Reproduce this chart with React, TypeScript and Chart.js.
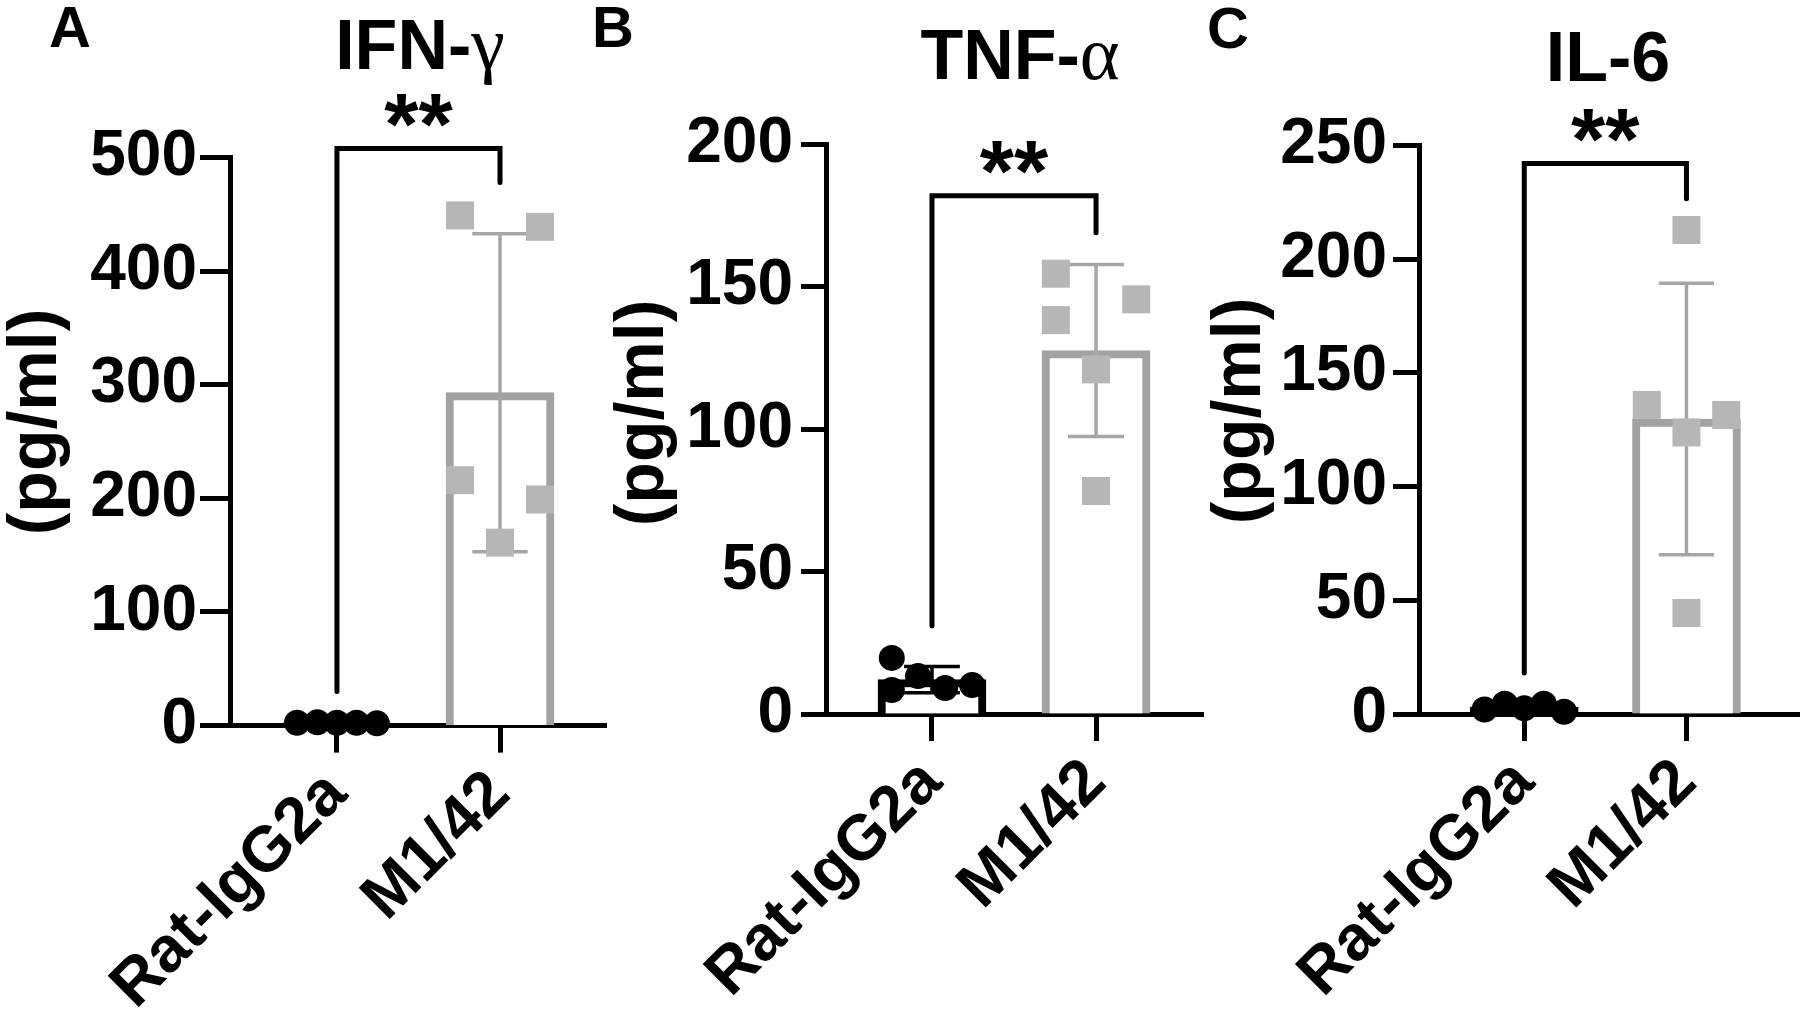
import React, { useEffect, useRef } from 'react';
import { Chart, registerables } from 'chart.js';

Chart.register(...registerables);

const W = 1800;
const H = 1036;
const SANS = '"Liberation Sans", Arial, Helvetica, sans-serif';
const SERIF = '"Liberation Serif", "Times New Roman", serif';

// ---------- data ----------
const groups = ['Rat-IgG2a', 'M1/42'];
const panelLetters = ['A', 'B', 'C'];
const titleMain = ['IFN-', 'TNF-', 'IL-6'];
const titleGreek = ['γ', 'α', ''];
const yLabel = '(pg/ml)';
const sigLabel = '**';

// IFN-γ (pg/ml)
const ifnRat = [2.5, 3, 2.5, 2.5, 2];
const ifnM142 = [449, 439, 216, 199, 161];
const ifnMean = [2.5, 293];
const ifnSd = [0.4, 140];
const ifnBracket = [30, 508, 478]; // left leg end, top, right leg end
const ifnTicks = { max: 500, step: 100 };

// TNF-α (pg/ml)
const tnfRat = [19.7, 13.3, 8.4, 9.1, 10.2];
const tnfM142 = [154.6, 145.6, 138.3, 121, 78.3];
const tnfMean = [12.1, 127.6];
const tnfSd = [4.6, 30.2];
const tnfBracket = [31, 182, 169];
const tnfTicks = { max: 200, step: 50 };

// IL-6 (pg/ml)
const il6Rat = [2, 4.5, 2.5, 4.5, 1];
const il6M142 = [212.8, 135.9, 131.5, 123.8, 44.4];
const il6Mean = [3, 129.7];
const il6Sd = [1.5, 59.7];
const il6Bracket = [18, 242, 226.5];
const il6Ticks = { max: 250, step: 50 };

// horizontal scatter of the dots inside each group (category units)
const ifnRatJitter = [-0.245, -0.12, 0, 0.12, 0.245];
const ifnM142Jitter = [-0.245, 0.245, -0.245, 0.245, 0];
const tnfRatJitter = [-0.245, -0.085, -0.245, 0.08, 0.245];
const tnfM142Jitter = [-0.245, 0.245, -0.245, 0, 0];
const il6RatJitter = [-0.245, -0.12, 0, 0.12, 0.245];
const il6M142Jitter = [0, -0.245, 0.245, 0, 0];

// ---------- layout / style ----------
type Layout = {
  axisX: number; top: number; zero: number; right: number;
  xMin: number; xMax: number;
  yTickLen: number; yTickPad: number;
  letter: [number, number]; title: [number, number]; yTitle: [number, number];
};

type Panel = {
  idx: number;
  rat: number[]; ratJ: number[]; m: number[]; mJ: number[];
  mean: number[]; sd: number[]; bracket: number[];
  ticks: { max: number; step: number };
  L: Layout;
};

const panels: Panel[] = [
  {
    idx: 0, rat: ifnRat, ratJ: ifnRatJitter, m: ifnM142, mJ: ifnM142Jitter,
    mean: ifnMean, sd: ifnSd, bracket: ifnBracket, ticks: ifnTicks,
    L: { axisX: 230, top: 157.5, zero: 725.6, right: 606, xMin: -0.656, xMax: 1.65,
      yTickLen: 30, yTickPad: 3, letter: [70, 27], title: [420, 44], yTitle: [56, 422] },
  },
  {
    idx: 1, rat: tnfRat, ratJ: tnfRatJitter, m: tnfM142, mJ: tnfM142Jitter,
    mean: tnfMean, sd: tnfSd, bracket: tnfBracket, ticks: tnfTicks,
    L: { axisX: 826, top: 144.4, zero: 714, right: 1203, xMin: -0.646, xMax: 1.652,
      yTickLen: 25, yTickPad: 8, letter: [613, 27], title: [1020, 54], yTitle: [663, 413] },
  },
  {
    idx: 2, rat: il6Rat, ratJ: il6RatJitter, m: il6M142, mJ: il6M142Jitter,
    mean: il6Mean, sd: il6Sd, bracket: il6Bracket, ticks: il6Ticks,
    L: { axisX: 1419, top: 145.4, zero: 714, right: 1800, xMin: -0.649, xMax: 1.70,
      yTickLen: 26, yTickPad: 6, letter: [1228, 28], title: [1608, 56], yTitle: [1260, 411] },
  },
];

const GREY_BAR = '#a2a2a2';
const GREY_DOT = '#b6b6b6';
const GREY_ERR = '#a6a6a6';
const CAP = 0.17;
const Y_AXIS_W = 200;
const STAR_GAP = 38;

function capCenterText(ctx: CanvasRenderingContext2D, text: string, font: string, cx: number, cy: number) {
  ctx.font = font;
  const m = ctx.measureText(text);
  ctx.textAlign = 'center';
  ctx.textBaseline = 'alphabetic';
  ctx.fillText(text, cx, cy + (m.actualBoundingBoxAscent - m.actualBoundingBoxDescent) / 2);
}

function makeTextPlugin(p: Panel) {
  return {
    id: 'panelText' + p.idx,
    afterDraw(chart: any) {
      const ctx: CanvasRenderingContext2D = chart.ctx;
      const L = p.L;
      ctx.save();
      ctx.fillStyle = '#000';
      // panel letter
      capCenterText(ctx, panelLetters[p.idx], `bold 58px ${SANS}`, L.letter[0], L.letter[1]);
      // title (sans part + greek serif part)
      const mainFont = `bold 70px ${SANS}`;
      const greekFont = `76px ${SERIF}`;
      ctx.font = mainFont;
      const capA = ctx.measureText('I').actualBoundingBoxAscent;
      const w1 = ctx.measureText(titleMain[p.idx]).width;
      ctx.font = greekFont;
      const w2 = titleGreek[p.idx] ? ctx.measureText(titleGreek[p.idx]).width : 0;
      const x0 = L.title[0] - (w1 + w2) / 2;
      const base = L.title[1] + capA / 2;
      ctx.textAlign = 'left';
      ctx.textBaseline = 'alphabetic';
      ctx.font = mainFont;
      ctx.fillText(titleMain[p.idx], x0, base);
      if (titleGreek[p.idx]) {
        ctx.font = greekFont;
        ctx.fillText(titleGreek[p.idx], x0 + w1, base);
      }
      // significance stars above bracket
      const xs = chart.scales.x;
      const ys = chart.scales.y;
      const sx = (xs.getPixelForValue(0) + xs.getPixelForValue(1)) / 2;
      const sy = ys.getPixelForValue(p.bracket[1]) - STAR_GAP;
      capCenterText(ctx, sigLabel, `bold 88px ${SANS}`, sx, sy);
      // y axis title
      ctx.translate(L.yTitle[0], L.yTitle[1]);
      ctx.rotate(-Math.PI / 2);
      ctx.font = `bold 68px ${SANS}`;
      ctx.textAlign = 'center';
      ctx.textBaseline = 'alphabetic';
      ctx.fillText(yLabel, 0, 0);
      ctx.restore();
    },
  };
}

function makeConfig(p: Panel): any {
  const L = p.L;
  const datasets: any[] = [];
  // dots
  datasets.push({
    type: 'line', order: 0, showLine: false, clip: false,
    data: p.rat.map((v, i) => ({ x: 0 + p.ratJ[i], y: v })),
    pointStyle: 'circle', pointRadius: 13, pointBackgroundColor: '#000', pointBorderWidth: 0,
  });
  datasets.push({
    type: 'line', order: 0, showLine: false, clip: false,
    data: p.m.map((v, i) => ({ x: 1 + p.mJ[i], y: v })),
    pointStyle: 'rect', pointRadius: 19.8, pointBackgroundColor: GREY_DOT, pointBorderWidth: 0,
  });
  // error bars (mean ± SD)
  p.mean.forEach((mv, gi) => {
    const lo = mv - p.sd[gi];
    const hi = mv + p.sd[gi];
    const color = gi === 0 ? '#000' : GREY_ERR;
    const segs = [
      [{ x: gi, y: lo }, { x: gi, y: hi }],
      [{ x: gi - CAP, y: hi }, { x: gi + CAP, y: hi }],
      [{ x: gi - CAP, y: lo }, { x: gi + CAP, y: lo }],
    ];
    segs.forEach((seg) => datasets.push({
      type: 'line', order: 1, data: seg, borderColor: color, borderWidth: 3.5,
      pointRadius: 0, clip: false, tension: 0, fill: false,
    }));
  });
  // bars (mean)
  datasets.push({
    type: 'bar', order: 2, clip: false,
    data: p.mean.map((mv, gi) => ({ x: gi, y: mv })),
    backgroundColor: '#ffffff', borderColor: ['#000000', GREY_BAR], borderWidth: 8,
    borderSkipped: 'start', barThickness: 108,
  });
  // significance bracket
  const b = p.bracket;
  datasets.push({
    type: 'line', order: 3, clip: false, tension: 0, fill: false,
    data: [{ x: 0, y: b[0] }, { x: 0, y: b[1] }, { x: 1, y: b[1] }, { x: 1, y: b[2] }],
    borderColor: '#000', borderWidth: 5, pointRadius: 0,
    borderCapStyle: 'round', borderJoinStyle: 'miter',
  });

  return {
    type: 'bar',
    data: { datasets },
    plugins: [makeTextPlugin(p)],
    options: {
      responsive: false,
      animation: false,
      events: [],
      devicePixelRatio: 1,
      layout: { autoPadding: false, padding: { left: L.axisX - Y_AXIS_W, right: W - L.right, top: L.top, bottom: 0 } },
      plugins: { legend: { display: false }, title: { display: false }, tooltip: { enabled: false } },
      scales: {
        x: {
          type: 'linear', min: L.xMin, max: L.xMax, offset: false,
          afterBuildTicks: (s: any) => { s.ticks = [{ value: 0 }, { value: 1 }]; },
          afterFit: (s: any) => { s.height = H - L.zero; },
          grid: { offset: false, drawOnChartArea: false, drawTicks: true, tickLength: 27, tickWidth: 5, tickColor: '#000' },
          border: { display: true, color: '#000', width: 5 },
          ticks: {
            autoSkip: false, maxRotation: 45, minRotation: 45, padding: 4, color: '#000',
            font: { family: SANS, size: 64, weight: 'bold' },
            callback: (v: any) => (Math.round(Number(v)) === 0 ? groups[0] : groups[1]),
          },
        },
        y: {
          type: 'linear', min: 0, max: p.ticks.max,
          afterFit: (s: any) => { s.width = Y_AXIS_W; },
          grid: { drawOnChartArea: false, drawTicks: true, tickLength: L.yTickLen, tickWidth: 5, tickColor: '#000' },
          border: { display: true, color: '#000', width: 5 },
          ticks: {
            stepSize: p.ticks.step, padding: L.yTickPad, color: '#000',
            font: { family: SANS, size: 64, weight: 'bold' },
          },
        },
      },
    },
  };
}

function PanelChart({ p }: { p: Panel }) {
  const ref = useRef<HTMLCanvasElement | null>(null);
  useEffect(() => {
    if (!ref.current) return;
    const chart = new Chart(ref.current, makeConfig(p));
    return () => chart.destroy();
  }, [p]);
  return (
    <canvas
      ref={ref}
      width={W}
      height={H}
      style={{ position: 'absolute', left: 0, top: 0, width: W, height: H }}
    />
  );
}

export default function App() {
  return (
    <div style={{ position: 'absolute', left: 0, top: 0, width: W, height: H, background: '#fff', overflow: 'hidden' }}>
      {panels.map((p) => (
        <PanelChart key={p.idx} p={p} />
      ))}
    </div>
  );
}
